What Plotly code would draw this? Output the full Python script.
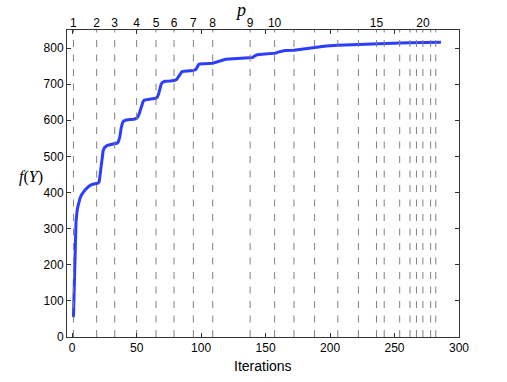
import plotly.graph_objects as go

# ---- data ----
iterations = [1, 2, 3, 4, 5, 6, 7, 8, 10, 12, 14, 16, 19, 20, 21, 22, 23, 24, 25, 27, 30, 33,
              35, 36, 37, 38, 39, 40, 42, 45, 48, 50, 51, 52, 53, 54, 55, 56, 58, 61, 65,
              66, 67, 68, 69, 70, 72, 76, 79, 81, 82, 83, 84, 85, 87, 90, 94, 96, 97, 98, 99,
              101, 105, 109, 111, 113, 115, 117, 119, 122, 128, 138, 140, 141, 142, 143, 145,
              150, 157, 158, 159, 160, 162, 165, 172, 174, 176, 180, 185, 188, 192, 197,
              206, 212, 222, 230, 236, 245, 254, 262, 272, 280, 286]
f_values = [55, 190, 320, 355, 372, 383, 392, 398, 407, 414, 420, 423, 425, 426, 430, 455, 490, 515, 524, 530, 533, 535,
            537, 542, 555, 578, 593, 598, 601, 602, 603, 606, 610, 618, 630, 643, 652, 656, 658, 659, 661,
            664, 672, 688, 700, 705, 708, 709, 710, 713, 718, 726, 731, 734, 736, 737, 738, 741, 748, 754, 756,
            757, 757, 758, 760, 763, 766, 768, 769, 770, 771, 772, 774, 777, 780, 781, 782,
            783, 784, 786, 788, 789, 791, 793, 794, 795, 797, 799,
            801, 803, 805, 806, 808, 809, 810, 811, 812, 813, 814, 815, 815, 816, 816]

p_values = list(range(1, 23))
p_iterations = [1, 19, 33, 50, 65, 79, 94, 109, 138, 157, 172, 188, 206, 222, 236, 242,
                254, 262, 267, 272, 278, 282]
p_labeled = [1, 2, 3, 4, 5, 6, 7, 8, 9, 10, 15, 20]

x_ticks = [0, 50, 100, 150, 200, 250, 300]
y_ticks = [0, 100, 200, 300, 400, 500, 600, 700, 800]
x_range = [-4, 300]
y_range = [0, 850]

# ---- figure ----
fig = go.Figure()

# dashed vertical lines at each p change
vx, vy = [], []
for xi in p_iterations:
    vx += [xi, xi, None]
    vy += [y_range[0], y_range[1], None]
fig.add_trace(go.Scatter(x=vx, y=vy, mode="lines", xaxis="x2", yaxis="y",
                         line=dict(color="#808080", width=1, dash="7px,7.5px"),
                         hoverinfo="skip", showlegend=False))

fig.add_trace(go.Scatter(x=iterations, y=f_values, mode="lines",
                         line=dict(color="#2b3dff", width=3),
                         showlegend=False))

font = dict(family="Liberation Sans, Arial, sans-serif", size=12, color="black")

top_vals = [p_iterations[p_values.index(p)] for p in p_labeled]
top_text = [str(p) for p in p_labeled]

fig.update_layout(
    width=507, height=382,
    margin=dict(l=67, r=48, t=30, b=45, autoexpand=False),
    paper_bgcolor="white", plot_bgcolor="white",
    font=font,
    xaxis=dict(range=x_range, tickvals=x_ticks, ticks="inside", ticklen=4,
               tickcolor="#333", showline=True, linecolor="#333", linewidth=1,
               mirror="ticks", showgrid=False, zeroline=False, tickfont=font,
               automargin=False),
    xaxis2=dict(range=x_range, overlaying="x", side="top", tickvals=top_vals,
                ticktext=top_text, ticks="", showline=False, showgrid=False,
                zeroline=False, tickfont=font, automargin=False),
    yaxis=dict(range=y_range, tickvals=y_ticks, ticks="inside", ticklen=4,
               tickcolor="#333", showline=True, linecolor="#333", linewidth=1,
               mirror="ticks", showgrid=False, zeroline=False, tickfont=font,
               automargin=False),
    annotations=[
        dict(text="Iterations", xref="paper", yref="paper", x=0.5, y=0,
             xanchor="center", yanchor="top", yshift=-19, showarrow=False,
             font=dict(family="Liberation Sans, Arial, sans-serif", size=14, color="black")),
        dict(text="<i>f</i>(<i>Y</i>)", xref="paper", yref="paper", x=-0.093, y=0.522,
             xanchor="center", yanchor="middle", showarrow=False,
             font=dict(family="Liberation Serif, serif", size=16, color="black")),
        dict(text="<i>p</i>", xref="paper", yref="paper", x=0.442, y=1.065,
             xanchor="center", yanchor="middle", showarrow=False,
             font=dict(family="Liberation Serif, serif", size=18, color="black")),
    ],
)

fig.write_html("out.html", config={"displayModeBar": False})

# remove default page margin so the figure sits at the window origin
with open("out.html", "r", encoding="utf-8") as fh:
    html = fh.read()
html = html.replace("<head>", "<head><style>html,body{margin:0;padding:0;overflow:hidden;}</style>", 1)
with open("out.html", "w", encoding="utf-8") as fh:
    fh.write(html)
